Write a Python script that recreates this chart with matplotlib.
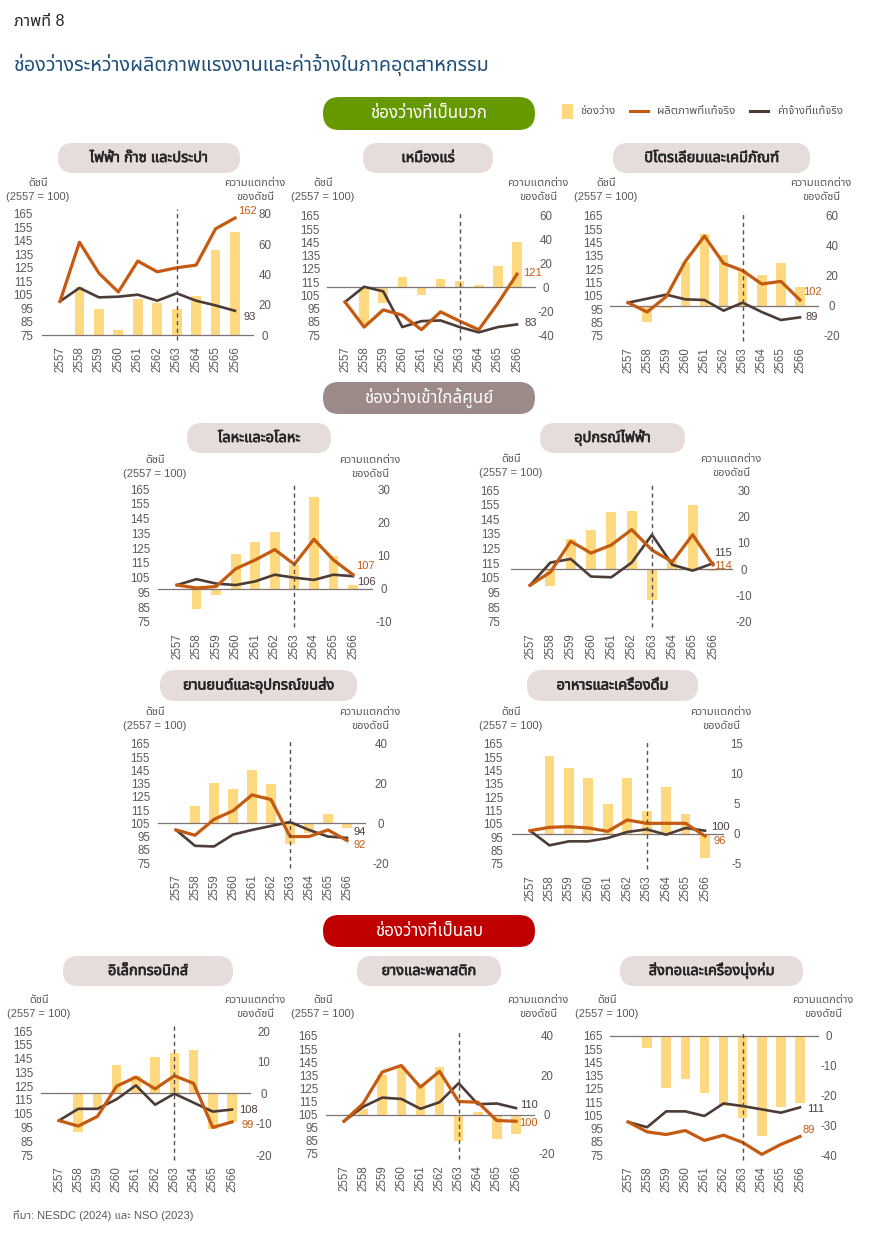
import numpy as np
import matplotlib
matplotlib.use('Agg')
import matplotlib.pyplot as plt
import matplotlib.patheffects as pe
from matplotlib import font_manager
from matplotlib.ft2font import FT2Font
from matplotlib.patches import FancyBboxPatch, Rectangle
from matplotlib.lines import Line2D

# ---- data ----
years = ['2557', '2558', '2559', '2560', '2561', '2562', '2563', '2564', '2565', '2566']

elec_prod = [100, 144, 121, 107, 130, 122, 125, 127, 154, 162]
elec_wage = [100, 110, 103, 103.5, 105, 100.5, 106, 100.5, 97, 93]
elec_gap = [0, 32, 17, 3, 24, 21, 17.5, 26, 56, 68]

mine_prod = [100, 81, 94, 90, 79, 92.5, 85.5, 79, 99, 121]
mine_wage = [100, 111.5, 108, 81, 85.5, 86, 81, 77, 81, 83]
mine_gap = [0, -31, -13, 9, -6, 7, 5, 2, 18, 38]

petro_prod = [100, 93, 104.5, 131, 150, 129.5, 124, 114, 116, 102]
petro_wage = [100, 103, 106, 102.5, 102, 94, 100, 93, 87, 89]
petro_gap = [0, -10.5, -1.5, 29, 48, 34, 24, 20.5, 28.5, 12.5]

metal_prod = [100, 98, 99, 111, 117, 124, 114, 131, 117, 107]
metal_wage = [100, 104, 101, 100, 102.5, 107, 105, 103.5, 107, 106]
metal_gap = [0, -6, -2, 10.5, 14, 17, 7, 27.5, 10, 1]

elecdev_prod = [100, 109, 130, 122, 127.5, 138, 124, 116, 134.5, 114]
elecdev_wage = [100, 115.5, 118, 106, 105.5, 115.5, 134.5, 114, 110, 115]
elecdev_gap = [0, -6.5, 11.5, 15, 21.5, 22, -11.5, 3, 24.5, -0.5]

auto_prod = [100, 96, 108, 114.5, 126.5, 123, 95, 95, 100, 92]
auto_wage = [100, 88, 87.5, 96.5, 100, 103, 106, 100, 95, 94]
auto_gap = [0, 8.5, 20.5, 17.5, 27, 20, -10.5, -5, 4.5, -2.5]

food_prod = [100, 102.5, 103, 102, 99.5, 108, 105.5, 105.5, 105.5, 96]
food_wage = [100, 89, 92, 92, 94.5, 99, 101, 97, 102, 100]
food_gap = [0, 13, 11, 9.3, 5, 9.4, 3.8, 7.8, 3.3, -4]

electronic_prod = [100, 96, 103, 125, 131.5, 123, 132.5, 127, 95, 99]
electronic_wage = [100, 108.5, 108.5, 115.5, 125.5, 111.5, 119.5, 113, 106.5, 108]
electronic_gap = [0, -12.5, -5, 9, 5.5, 11.5, 13, 14, -11.5, -9.5]

rubber_prod = [100, 113.5, 137.5, 142.5, 126, 138, 115, 114.5, 100.5, 100]
rubber_wage = [100, 111, 118, 117, 109.5, 114.5, 129, 113, 113.5, 110]
rubber_gap = [0, 3, 20, 25, 14.5, 24, -13.5, 1.5, -12.5, -10]

textile_prod = [100, 92.5, 90.5, 93.5, 86, 90, 84.5, 75.5, 83, 89]
textile_wage = [100, 96, 108, 108, 104.5, 114, 112, 109.5, 107, 111]
textile_gap = [0, -4, -17.5, -14.5, -19, -23.5, -27.5, -33.5, -24, -22.5]

# ---- font: find one with Thai glyphs ----
thai = []
for f in font_manager.fontManager.ttflist:
    try:
        if FT2Font(f.fname).get_char_index(ord('ก')):
            thai.append(f.name)
    except Exception:
        pass
thai = sorted(set(thai), key=lambda n: (0 if 'Noto Sans Thai' in n else 1, n))
plt.rcParams['font.family'] = ['Liberation Sans'] + thai[:1] + ['DejaVu Sans']
plt.rcParams['axes.unicode_minus'] = False

BAR = '#FFD97F'
PROD = '#C55A11'
WAGE = '#4D3B37'
ZERO = '#7F7471'
DASH = '#5A4E4B'
GREY = '#595959'
PILL = '#E6DCDA'
FS = 8.3

W, H = 870, 1248
fig = plt.figure(figsize=(8.7, 12.48), dpi=100)
bg = fig.add_axes([0, 0, 1, 1])
bg.set_xlim(0, W)
bg.set_ylim(H, 0)
bg.axis('off')


def pill(x0, y0, x1, y1, color, text, tcolor, size, bold=True):
    r = (y1 - y0) / 2
    bg.add_patch(FancyBboxPatch((x0, y0), x1 - x0, y1 - y0,
                                boxstyle='round,pad=0,rounding_size=%g' % r,
                                fc=color, ec='none'))
    t = bg.text((x0 + x1) / 2, (y0 + y1) / 2, text, color=tcolor, fontsize=size,
                ha='center', va='center')
    if bold:
        t.set_path_effects([pe.withStroke(linewidth=0.5, foreground=tcolor)])


bg.text(14, 22, 'ภาพที่ 8', fontsize=11.5, color='#262626', va='center')
bg.text(14, 65, 'ช่องว่างระหว่างผลิตภาพแรงงานและค่าจ้างในภาคอุตสาหกรรม',
        fontsize=14.2, color='#1F4E79', va='center')

pill(323, 97, 535, 130, '#669900', 'ช่องว่างที่เป็นบวก', 'white', 12.2, False)
pill(323, 382, 535, 414, '#9B8A87', 'ช่องว่างเข้าใกล้ศูนย์', 'white', 12.2, False)
pill(323, 915, 535, 947, '#C00000', 'ช่องว่างที่เป็นลบ', 'white', 12.2, False)

# legend
bg.add_patch(Rectangle((562, 104), 11, 15, fc=BAR, ec='none'))
bg.text(580, 111, 'ช่องว่าง', fontsize=8.2, color=GREY, va='center')
bg.add_line(Line2D([630, 648], [111, 111], color=PROD, lw=2.2))
bg.text(657, 111, 'ผลิตภาพที่แท้จริง', fontsize=8.2, color=GREY, va='center')
bg.add_line(Line2D([750, 768], [111, 111], color=WAGE, lw=2.2))
bg.text(777, 111, 'ค่าจ้างที่แท้จริง', fontsize=8.2, color=GREY, va='center')

bg.text(13, 1215, 'ที่มา: NESDC (2024) และ NSO (2023)', fontsize=8, color=GREY, va='center')

panels = [
    dict(title='ไฟฟ้า ก๊าซ และประปา', pill=(58, 143, 240, 173), x0=60, x1=235, yt=214, yb=335,
         glim=(0, 80), gstep=20, lab_l=33, lab_r=265, hl=38, hr=255, hy=183, pe=(3, 7), we=(8, -6)),
    dict(title='เหมืองแร่', pill=(363, 143, 493, 173), x0=345, x1=517, yt=216, yb=335,
         glim=(-40, 60), gstep=20, lab_l=320, lab_r=546, hl=323, hr=538, hy=183, pe=(6, 1), we=(8, 1)),
    dict(title='ปิโตรเลียมและเคมีภัณฑ์', pill=(613, 143, 810, 173), x0=628, x1=800, yt=216, yb=336,
         glim=(-20, 60), gstep=20, lab_l=603, lab_r=832, hl=606, hr=821, hy=183, pe=(3, 8), we=(6, 0)),
    dict(title='โลหะและอโลหะ', pill=(187, 423, 331, 453), x0=177, x1=353, yt=489, yb=622,
         glim=(-10, 30), gstep=10, lab_l=150, lab_r=384, hl=155, hr=370, hy=460, pe=(3, 9), we=(4, -6)),
    dict(title='อุปกรณ์ไฟฟ้า', pill=(540, 423, 685, 453), x0=530, x1=713, yt=490, yb=622,
         glim=(-20, 30), gstep=10, lab_l=500, lab_r=744, hl=511, hr=731, hy=459, pe=(1, -1), we=(1, 10)),
    dict(title='ยานยนต์และอุปกรณ์ขนส่ง', pill=(160, 670, 357, 701), x0=176, x1=347, yt=744, yb=863,
         glim=(-20, 40), gstep=20, lab_l=150, lab_r=381, hl=155, hr=370, hy=712, pe=(6, -4), we=(6, 6)),
    dict(title='อาหารและเครื่องดื่ม', pill=(527, 670, 698, 701), x0=530, x1=705, yt=744, yb=864,
         glim=(-5, 15), gstep=5, lab_l=503, lab_r=737, hl=511, hr=721, hy=712, pe=(9, -5), we=(6, 4)),
    dict(title='อิเล็กทรอนิกส์', pill=(63, 956, 233, 986), x0=59, x1=232, yt=1031, yb=1155,
         glim=(-20, 20), gstep=10, lab_l=33, lab_r=264, hl=39, hr=255, hy=1000, pe=(9, -3), we=(7, 0)),
    dict(title='ยางและพลาสติก', pill=(357, 956, 501, 986), x0=344, x1=516, yt=1036, yb=1154,
         glim=(-20, 40), gstep=20, lab_l=318, lab_r=547, hl=323, hr=538, hy=1000, pe=(3, -2), we=(4, 3)),
    dict(title='สิ่งทอและเครื่องนุ่งห่ม', pill=(620, 956, 803, 986), x0=628, x1=800, yt=1036, yb=1155,
         glim=(-40, 0), gstep=10, lab_l=603, lab_r=829, hl=607, hr=823, hy=1000, pe=(3, 6), we=(7, -2)),
]

series = [
    (elec_prod, elec_wage, elec_gap),
    (mine_prod, mine_wage, mine_gap),
    (petro_prod, petro_wage, petro_gap),
    (metal_prod, metal_wage, metal_gap),
    (elecdev_prod, elecdev_wage, elecdev_gap),
    (auto_prod, auto_wage, auto_gap),
    (food_prod, food_wage, food_gap),
    (electronic_prod, electronic_wage, electronic_gap),
    (rubber_prod, rubber_wage, rubber_gap),
    (textile_prod, textile_wage, textile_gap),
]

M = 0.95
idx = np.arange(len(years))
for c, (prod, wage, gap) in zip(panels, series):
    pill(*c['pill'], PILL, c['title'], '#262626', 10.5)
    bg.text(c['hl'], c['hy'], 'ดัชนี', fontsize=8, color=GREY, ha='center', va='center')
    bg.text(c['hl'], c['hy'] + 14, '(2557 = 100)', fontsize=8, color=GREY, ha='center', va='center')
    bg.text(c['hr'], c['hy'], 'ความแตกต่าง', fontsize=8, color=GREY, ha='center', va='center')
    bg.text(c['hr'], c['hy'] + 14, 'ของดัชนี', fontsize=8, color=GREY, ha='center', va='center')

    sp = (c['x1'] - c['x0']) / 9
    left = c['x0'] - M * sp
    right = c['x1'] + M * sp
    ax = fig.add_axes([left / W, 1 - c['yb'] / H, (right - left) / W, (c['yb'] - c['yt']) / H])
    ax2 = ax.twinx()
    ax.set_zorder(ax2.get_zorder() + 1)
    ax.patch.set_visible(False)

    ax2.bar(idx, gap, width=0.5, color=BAR)
    ax2.axhline(0, color=ZERO, lw=0.9, clip_on=False)
    ax.plot(idx, wage, color=WAGE, lw=1.9, clip_on=False)
    ax.plot(idx, prod, color=PROD, lw=2.3, clip_on=False)
    ax.axvline(6, ymin=-0.04, ymax=1.04, clip_on=False, ls=(0, (3, 2.5)), color=DASH, lw=1)

    ax.annotate('%.0f' % prod[-1], xy=(9, prod[-1]), xytext=c['pe'], textcoords='offset pixels',
                color=PROD, fontsize=8, ha='left', va='center')
    ax.annotate('%.0f' % wage[-1], xy=(9, wage[-1]), xytext=c['we'], textcoords='offset pixels',
                color=WAGE, fontsize=8, ha='left', va='center')

    ax.set_xlim(-M, 9 + M)
    ax.set_ylim(75, 165)
    ax.set_yticks(range(75, 166, 10))
    g0, g1 = c['glim']
    ax2.set_ylim(g0, g1)
    ax2.set_yticks(np.arange(g0, g1 + 1, c['gstep']))
    ax.set_xticks(idx)
    ax.set_xticklabels(years, rotation=90)

    for a in (ax, ax2):
        for s in a.spines.values():
            s.set_visible(False)
    ax.tick_params(axis='x', length=0, labelsize=FS, labelcolor=GREY, pad=8)
    ax.tick_params(axis='y', length=0, labelsize=FS, labelcolor=GREY, pad=(left - c['lab_l']) * 0.72)
    ax2.tick_params(axis='y', length=0, labelsize=FS, labelcolor=GREY, pad=(c['lab_r'] - right) * 0.72)
    for t in ax2.get_yticklabels():
        t.set_ha('center')

fig.savefig('out.png', dpi=100)
